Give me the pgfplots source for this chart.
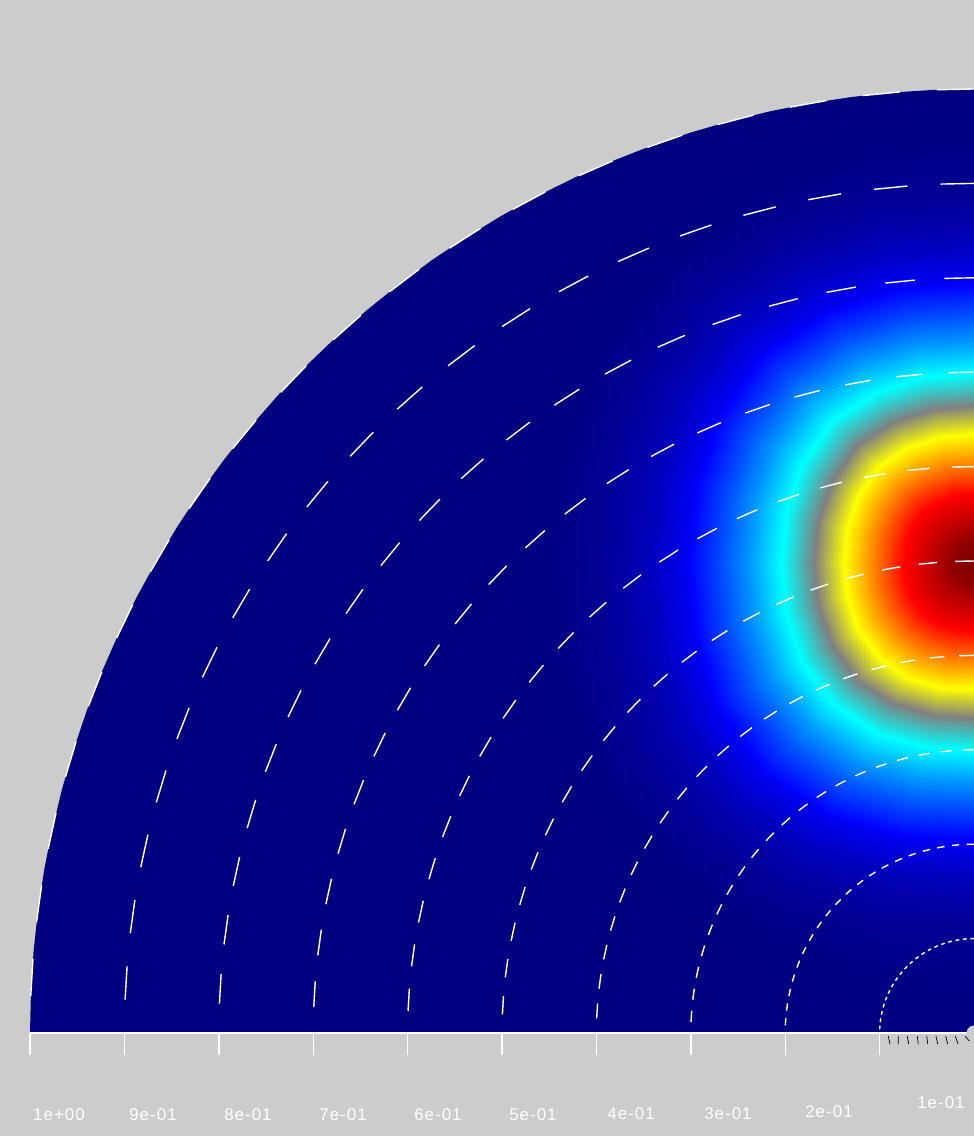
\documentclass[border=0pt]{standalone}
\usepackage{fontspec}
\setmainfont[LetterSpace=6]{Liberation Sans}
\usepackage{pgfplots}
\usepackage{pgfplotstable}
\pgfplotsset{compat=1.18}
\definecolor{bg}{RGB}{204,204,204}
\definecolor{navy}{RGB}{0,0,128}

% angles along the rings, degrees; unit radius in the second column
\pgfplotstableread{
t u
90 1
92.25 1
94.5 1
96.75 1
99 1
101.25 1
103.5 1
105.75 1
108 1
110.25 1
112.5 1
114.75 1
117 1
119.25 1
121.5 1
123.75 1
126 1
128.25 1
130.5 1
132.75 1
135 1
137.25 1
139.5 1
141.75 1
144 1
146.25 1
148.5 1
150.75 1
153 1
155.25 1
157.5 1
159.75 1
162 1
164.25 1
166.5 1
168.75 1
171 1
173.25 1
175.5 1
177.75 1
180 1
}\ringangles

% one dashed ring: radius, dash length (20 straight dashes per quarter turn)
\newcommand{\ring}[2]{\addplot[white,line width=1.4bp,dash pattern=on #2bp off #2bp,data cs=polar] table[x=t,y expr=#1*\thisrow{u}] {\ringangles};}
\newcommand{\lab}[3]{\node[text=white,font=\fontsize{17}{17}\selectfont,inner sep=0pt] at (axis cs:#1,#2) {#3};}

\begin{document}
\begin{tikzpicture}
\begin{axis}[
scale only axis,width=974bp,height=1136bp,
xmin=-1.03178,xmax=0,ymin=-0.10911,ymax=1.09428,
ticks=none,axis line style={draw=none},
axis background/.style={fill=bg},
colormap={heat}{rgb255(0)=(0,0,128) rgb255(1)=(0,0,255) rgb255(2)=(0,255,255) rgb255(3)=(128,128,128) rgb255(4)=(255,255,0) rgb255(5)=(255,0,0) rgb255(6)=(128,0,0)},
point meta min=0,point meta max=6
]
% the quarter disk
\addplot[fill=navy,draw=none,data cs=polar] coordinates {(90,1)(92.5,1)(95,1)(97.5,1)(100,1)(102.5,1)(105,1)(107.5,1)(110,1)(112.5,1)(115,1)(117.5,1)(120,1)(122.5,1)(125,1)(127.5,1)(130,1)(132.5,1)(135,1)(137.5,1)(140,1)(142.5,1)(145,1)(147.5,1)(150,1)(152.5,1)(155,1)(157.5,1)(160,1)(162.5,1)(165,1)(167.5,1)(170,1)(172.5,1)(175,1)(177.5,1)(180,1)(180,0)(90,0)};

% the hot spot: a = angle round its centre from straight up, d = distance, v = value
\addplot[surf,shader=interp,mesh/cols=18,point meta=explicit]
table[row sep=\\,x expr={-\thisrow{d}*sin(\thisrow{a})},y expr={0.498+\thisrow{d}*cos(\thisrow{a})},meta=v] {
a d v\\
0 0 6\\0 .021 5.9\\0 .041 5.55\\0 .073 5\\0 .104 4.5\\0 .136 4\\0 .166 3\\0 .201 2\\0 .234 1.6\\0 .264 1.3\\0 .297 1\\0 .301 .88\\0 .318 .7\\0 .336 .5\\0 .365 .3\\0 .397 .15\\0 .445 .05\\0 .497 0\\
15 0 6\\15 .021 5.9\\15 .042 5.55\\15 .074 5\\15 .106 4.5\\15 .138 4\\15 .169 3\\15 .204 2\\15 .238 1.6\\15 .268 1.3\\15 .302 1\\15 .306 .88\\15 .323 .7\\15 .341 .5\\15 .371 .3\\15 .403 .15\\15 .445 .05\\15 .497 0\\
30 0 6\\30 .021 5.9\\30 .043 5.55\\30 .075 5\\30 .108 4.5\\30 .141 4\\30 .172 3\\30 .208 2\\30 .243 1.6\\30 .273 1.3\\30 .308 1\\30 .312 .88\\30 .329 .7\\30 .348 .5\\30 .378 .3\\30 .411 .15\\30 .445 .05\\30 .497 0\\
45 0 6\\45 .022 5.9\\45 .044 5.55\\45 .077 5\\45 .110 4.5\\45 .144 4\\45 .176 3\\45 .212 2\\45 .248 1.6\\45 .279 1.3\\45 .314 1\\45 .318 .88\\45 .336 .7\\45 .355 .5\\45 .386 .3\\45 .419 .15\\45 .450 .05\\45 .497 0\\
60 0 6\\60 .022 5.9\\60 .043 5.55\\60 .076 5\\60 .109 4.5\\60 .142 4\\60 .174 3\\60 .210 2\\60 .245 1.6\\60 .276 1.3\\60 .311 1\\60 .315 .88\\60 .333 .7\\60 .351 .5\\60 .382 .3\\60 .415 .15\\60 .450 .05\\60 .497 0\\
75 0 6\\75 .021 5.9\\75 .042 5.55\\75 .075 5\\75 .107 4.5\\75 .139 4\\75 .171 3\\75 .206 2\\75 .240 1.6\\75 .271 1.3\\75 .305 1\\75 .309 .88\\75 .326 .7\\75 .344 .5\\75 .375 .3\\75 .407 .15\\75 .445 .05\\75 .497 0\\
90 0 6\\90 .021 5.9\\90 .042 5.55\\90 .074 5\\90 .106 4.5\\90 .138 4\\90 .169 3\\90 .204 2\\90 .238 1.6\\90 .268 1.3\\90 .302 1\\90 .306 .88\\90 .323 .7\\90 .341 .5\\90 .371 .3\\90 .403 .15\\90 .445 .05\\90 .497 0\\
105 0 6\\105 .021 5.9\\105 .042 5.55\\105 .075 5\\105 .107 4.5\\105 .139 4\\105 .171 3\\105 .206 2\\105 .240 1.6\\105 .271 1.3\\105 .305 1\\105 .309 .88\\105 .326 .7\\105 .344 .5\\105 .375 .3\\105 .407 .15\\105 .445 .05\\105 .497 0\\
120 0 6\\120 .022 5.9\\120 .043 5.55\\120 .076 5\\120 .109 4.5\\120 .142 4\\120 .174 3\\120 .210 2\\120 .245 1.6\\120 .276 1.3\\120 .311 1\\120 .315 .88\\120 .333 .7\\120 .351 .5\\120 .382 .3\\120 .415 .15\\120 .450 .05\\120 .497 0\\
135 0 6\\135 .022 5.9\\135 .043 5.55\\135 .077 5\\135 .110 4.5\\135 .143 4\\135 .175 3\\135 .211 2\\135 .246 1.6\\135 .277 1.3\\135 .313 1\\135 .317 .88\\135 .334 .7\\135 .353 .5\\135 .384 .3\\135 .417 .15\\135 .450 .05\\135 .497 0\\
150 0 6\\150 .021 5.9\\150 .043 5.55\\150 .075 5\\150 .108 4.5\\150 .141 4\\150 .172 3\\150 .208 2\\150 .243 1.6\\150 .273 1.3\\150 .308 1\\150 .312 .88\\150 .329 .7\\150 .348 .5\\150 .378 .3\\150 .411 .15\\150 .445 .05\\150 .497 0\\
165 0 6\\165 .021 5.9\\165 .042 5.55\\165 .073 5\\165 .105 4.5\\165 .137 4\\165 .167 3\\165 .202 2\\165 .236 1.6\\165 .265 1.3\\165 .299 1\\165 .303 .88\\165 .320 .7\\165 .338 .5\\165 .367 .3\\165 .399 .15\\165 .445 .05\\165 .497 0\\
180 0 6\\180 .020 5.9\\180 .041 5.55\\180 .072 5\\180 .103 4.5\\180 .134 4\\180 .164 3\\180 .198 2\\180 .231 1.6\\180 .260 1.3\\180 .293 1\\180 .297 .88\\180 .313 .7\\180 .331 .5\\180 .360 .3\\180 .391 .15\\180 .445 .05\\180 .497 0\\
};

\ring{0.1}{3.71}
\ring{0.2}{7.41}
\ring{0.3}{11.12}
\ring{0.4}{14.83}
\ring{0.5}{18.53}
\ring{0.6}{22.24}
\ring{0.7}{25.95}
\ring{0.8}{29.66}
\ring{0.9}{33.36}
\ring{1.0}{37.07}

% base line and ticks
\addplot[white,line width=1.5bp] coordinates {(-1,0)(0,0)};
\addplot[ycomb,white,line width=1.4bp] coordinates {(-1,-.0233)(-.9,-.0233)(-.8,-.0233)(-.7,-.0233)(-.6,-.0233)(-.5,-.0233)(-.4,-.0233)(-.3,-.0233)(-.2,-.0233)(-.1,-.0233)};
\addplot[black,line width=0.7bp,unbounded coords=jump] coordinates {
(-.0908,-.0032)(-.0890,-.0117)(nan,nan)
(-.0802,-.0032)(-.0802,-.0117)(nan,nan)
(-.0707,-.0032)(-.0692,-.0117)(nan,nan)
(-.0601,-.0032)(-.0590,-.0117)(nan,nan)
(-.0501,-.0032)(-.0490,-.0117)(nan,nan)
(-.0403,-.0032)(-.0385,-.0117)(nan,nan)
(-.0300,-.0032)(-.0279,-.0117)(nan,nan)
(-.0198,-.0032)(-.0169,-.0117)(nan,nan)
(-.0095,-.0032)(-.0050,-.0085)};
% small hole at the origin
\addplot[fill=bg,draw=none,data cs=polar] coordinates {(90,.008)(120,.008)(150,.008)(180,.008)(210,.008)(240,.008)(270,.008)};

\lab{-.9693}{-.0869}{1e+00}
\lab{-.8697}{-.0869}{9e-01}
\lab{-.7691}{-.0869}{8e-01}
\lab{-.6684}{-.0869}{7e-01}
\lab{-.5678}{-.0869}{6e-01}
\lab{-.4672}{-.0869}{5e-01}
\lab{-.3633}{-.0858}{4e-01}
\lab{-.2606}{-.0858}{3e-01}
\lab{-.1536}{-.0837}{2e-01}
\lab{-.0350}{-.0742}{1e-01}
\end{axis}
\end{tikzpicture}
\end{document}
